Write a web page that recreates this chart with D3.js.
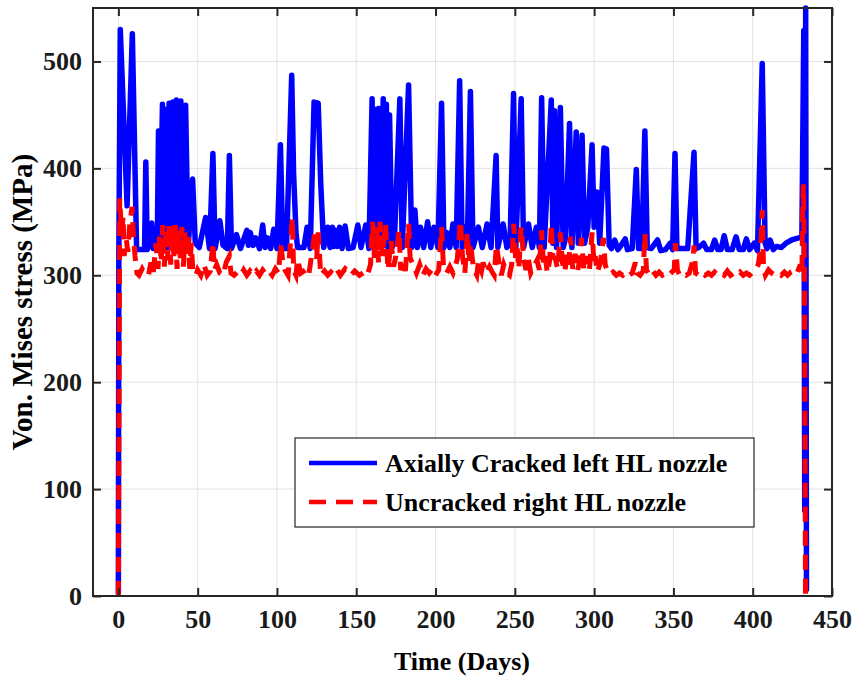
<!DOCTYPE html>
<html><head><meta charset="utf-8">
<script src="https://cdn.jsdelivr.net/npm/d3@7"></script>
<style>
body{margin:0;background:#fff;}
text{font-family:"Liberation Serif","Times New Roman",serif;font-weight:bold;}
</style>
</head><body>
<svg id="c" width="852" height="677"></svg>
<script>
const seriesNames = ["Axially Cracked left HL nozzle", "Uncracked right HL nozzle"];
const xTicks = [0, 50, 100, 150, 200, 250, 300, 350, 400, 450];
const yTicks = [0, 100, 200, 300, 400, 500];
const xTitle = "Time (Days)";
const yTitle = "Von. Mises stress (MPa)";

const blueDays = [0,0.3,1.2,5.5,8.8,11.5,16.5,17.3,18.2,20,21,22,24.5,25.3,26.2,27.8,28.8,29.8,30.8,32,33,34.3,35.3,36.6,37.8,39.4,40.8,42.4,44,46.8,48.5,51,55,57.5,59.6,61,64,66,68.7,70,71.3,74.5,77,81,82,83.2,85,86.6,89,91,92.5,94,96,98,100,102.2,103.7,106,109.3,110.5,112,113,117,119,121,123.4,126,127.6,129.5,132,133.5,135,136,137,138,139.5,141,143,145,148,151,153,156,158,160,161,162,163,164,165.5,167,168,169,170,171,172.5,174,177.5,179,183,185,187,188.5,190.5,192.5,195,197,199,201.5,203.8,205.3,207,209,211,213,215.2,216.8,218.5,220,222,223.6,227,229.5,232.5,235,238.2,239.3,242.6,245,247,249.2,250.6,254,255.5,258.6,261,263.6,265.5,266.9,268.5,273,274,275,276.3,278.7,280.5,282,284.5,286,288.7,290,292.4,294,296,298.7,300,301.8,303.5,306.2,307.8,309.5,311,313,315,317,319.6,321,324,326.6,328,330,332,333.5,336,340,342,345,348,349.5,351,352.2,356,359,363,364.3,366,369,371,374,376,378,380,382,384,387,389.5,391.5,394,396,398,401,403,406,407.8,409,411,413,415,418,421,424.6,429,431,432.2,432.8,433.4,433.9];
const blueVals = [3,320,530,365,526,324,324,406,324,330,349,325,326,435,324,460,326,455,326,461,326,462,326,464,326,463,326,459,326,390,330,326,354,325,414,325,351,328,325,412,325,338,325,342,328,340,328,335,325,347,326,335,325,343,325,422,325,325,487,395,340,326,326,345,325,462,461,386,326,345,326,345,327,342,327,345,325,346,325,326,347,326,347,325,465,326,455,326,456,326,465,328,460,326,450,326,330,465,326,478,326,361,326,345,326,350,326,345,326,461,326,340,326,348,326,482,326,345,327,472,326,345,326,348,326,412,326,348,326,330,470,326,465,326,348,326,345,326,466,326,464,330,454,326,457,326,335,442,326,434,330,431,330,345,422,345,378,330,419,418,328,325,333,324,328,334,324,325,399,325,325,435,326,325,333,323,324,330,324,414,325,325,325,415,325,326,330,324,324,333,324,324,337,324,324,336,324,324,334,324,330,323,498,330,325,333,324,327,326,330,333,335,336,529,80,550,6];

const redDays = [0,0.8,2,3,3.6,5,6,7,8.6,9.5,10.5,11.7,13,15,17,19,20.5,22,23.7,25,26,27,28,29,30,31,32,33,34,35,36,37,38,39,40,41,42,43,44,45,46,47,49,50,52,54,56,58,59.6,60.5,62,64,66,68,70,71,73,75,77,79,81,83,85,87,89,91,93,95,97,99,101,102.4,103.5,105,107,109.7,110.5,112,113,115,118,120,122,124,125,126,127.6,130,132,134,136,138,140,143,146.5,149,152,155,157,159,160.3,161.5,163,164,165,166.5,168.5,170,172,173.5,175,177,178,180,181,183,184,186,188,190,192,194,196,198,200,202,203.8,205,207,209,211,213.7,215.7,217,218.5,220,221,222,224,226,227,229,230,232,234,235.7,237,238.4,240,241.5,243,245,246.6,248,249.3,250.5,251.5,252.5,254,255.6,257,258.5,260,262,264,265.5,266.8,268,269,270.5,272,273,274,275.6,277,278.7,280,281.5,283,284,285,286.5,288,289.5,291,292,293.5,295.5,297,298.7,300,300.7,302,304,305.8,307,308,310,312,314,316,318,320,322,324,326,327,329,331,332,333,335,337,339,341,343,345,347,349,350.5,351.3,352.5,354,356,358,360,362.3,363,364,366,368,370,372,374,376,378,380,382,384,386,388,390,392,394,396,398,400,401.6,403.5,405,406,406.8,408,410,412,414,416,418,420,422,424,426.7,428,430,431,431.5,432,432.6,433.3];
const redVals = [0,372,340,355,318,333,322,345,364,336,318,302,300,306,301,300,312,302,330,306,338,312,347,308,345,314,348,310,346,318,347,306,342,316,345,308,340,320,336,306,330,302,300,305,300,310,300,304,331,305,310,302,300,312,318,302,300,303,300,305,300,304,300,304,300,305,301,304,300,306,302,330,315,305,300,354,305,300,315,302,305,300,320,342,315,340,300,304,300,303,300,305,300,306,300,304,300,303,300,310,350,315,345,312,350,318,348,305,332,308,318,342,305,312,304,348,316,310,302,310,300,306,302,306,300,305,345,308,302,308,302,315,351,318,302,340,312,330,306,300,312,304,312,302,308,303,300,328,312,300,310,302,300,310,348,316,325,306,345,315,305,316,302,308,314,305,342,312,320,302,314,348,318,315,306,340,312,303,320,310,336,306,320,304,314,335,305,318,304,340,310,318,303,312,335,310,305,301,303,300,302,300,303,300,302,312,302,300,304,339,305,300,304,300,303,300,302,300,303,305,330,305,300,302,300,302,314,328,302,300,303,300,302,300,303,300,302,300,304,300,302,300,303,300,302,300,303,305,310,325,361,307,300,305,302,300,302,300,303,300,303,305,302,310,300,360,385,310,0];

const W = 852, H = 677;
const m = {left: 93, right: 832, top: 8, bottom: 596};
const svg = d3.select("#c");
svg.append("rect").attr("width", W).attr("height", H).attr("fill", "#fff");

const x = d3.scaleLinear().domain([-16, 450]).range([m.left, m.right]);
const y = d3.scaleLinear().domain([0, 550]).range([m.bottom, m.top]);

// grid
const g = svg.append("g");
g.selectAll(".gx").data(xTicks).enter().append("line")
  .attr("x1", d => x(d)).attr("x2", d => x(d)).attr("y1", m.top).attr("y2", m.bottom)
  .attr("stroke", "#e2e2e2").attr("stroke-width", 1);
g.selectAll(".gy").data(yTicks).enter().append("line")
  .attr("x1", m.left).attr("x2", m.right).attr("y1", d => y(d)).attr("y2", d => y(d))
  .attr("stroke", "#e2e2e2").attr("stroke-width", 1);

const line = d3.line().x(d => x(d[0])).y(d => y(d[1]));
const blue = blueDays.map((d, i) => [d, blueVals[i]]);
const red = redDays.map((d, i) => [d, redVals[i]]);

svg.append("path").datum(blue).attr("d", line)
  .attr("fill", "none").attr("stroke", "#0000ff").attr("stroke-width", 5.5)
  .attr("stroke-linejoin", "round").attr("stroke-linecap", "round");
svg.append("path").datum(red).attr("d", line)
  .attr("fill", "none").attr("stroke", "#ff0000").attr("stroke-width", 5)
  .attr("stroke-dasharray", "15,9").attr("stroke-linejoin", "miter");

// axes box
const axCol = "#262626";
svg.append("rect").attr("x", m.left).attr("y", m.top).attr("width", m.right - m.left).attr("height", m.bottom - m.top)
  .attr("fill", "none").attr("stroke", axCol).attr("stroke-width", 2);

const xAxB = d3.axisBottom(x).tickValues(xTicks).tickSize(-8).tickPadding(14).tickFormat(d3.format("d"));
const xAxT = d3.axisTop(x).tickValues(xTicks).tickSize(-8).tickFormat("");
const yAxL = d3.axisLeft(y).tickValues(yTicks).tickSize(-8).tickPadding(11).tickFormat(d3.format("d"));
const yAxR = d3.axisRight(y).tickValues(yTicks).tickSize(-8).tickFormat("");

function style(sel) {
  sel.select(".domain").remove();
  sel.selectAll(".tick line").attr("stroke", axCol).attr("stroke-width", 2);
  sel.selectAll(".tick text").attr("fill", "#1a1a1a").style("font-size", "26px")
    .style("font-family", "'Liberation Serif','Times New Roman',serif").style("font-weight", "bold");
}
svg.append("g").attr("transform", `translate(0,${m.bottom})`).call(xAxB).call(style);
svg.append("g").attr("transform", `translate(0,${m.top})`).call(xAxT).call(style);
svg.append("g").attr("transform", `translate(${m.left},0)`).call(yAxL).call(style);
svg.append("g").attr("transform", `translate(${m.right},0)`).call(yAxR).call(style);

svg.append("text").attr("x", 462).attr("y", 670).attr("text-anchor", "middle")
  .style("font-size", "26px").attr("fill", "#000").text(xTitle);
svg.append("text").attr("transform", "translate(32,302) rotate(-90)").attr("text-anchor", "middle")
  .style("font-size", "29px").attr("fill", "#000").text(yTitle);

// legend
const lg = svg.append("g");
lg.append("rect").attr("x", 295).attr("y", 438).attr("width", 459).attr("height", 89)
  .attr("fill", "#fff").attr("stroke", axCol).attr("stroke-width", 1.2);
const ly = [463, 502];
const styles = [{c: "#0000ff", dash: null}, {c: "#ff0000", dash: "17,10"}];
seriesNames.forEach((n, i) => {
  const l = lg.append("line").attr("x1", 309).attr("x2", 377).attr("y1", ly[i]).attr("y2", ly[i])
    .attr("stroke", styles[i].c).attr("stroke-width", 4.5);
  if (styles[i].dash) l.attr("stroke-dasharray", styles[i].dash);
  lg.append("text").attr("x", 385).attr("y", ly[i] + 9).style("font-size", "26px").attr("fill", "#000").text(n);
});
</script>
</body></html>
